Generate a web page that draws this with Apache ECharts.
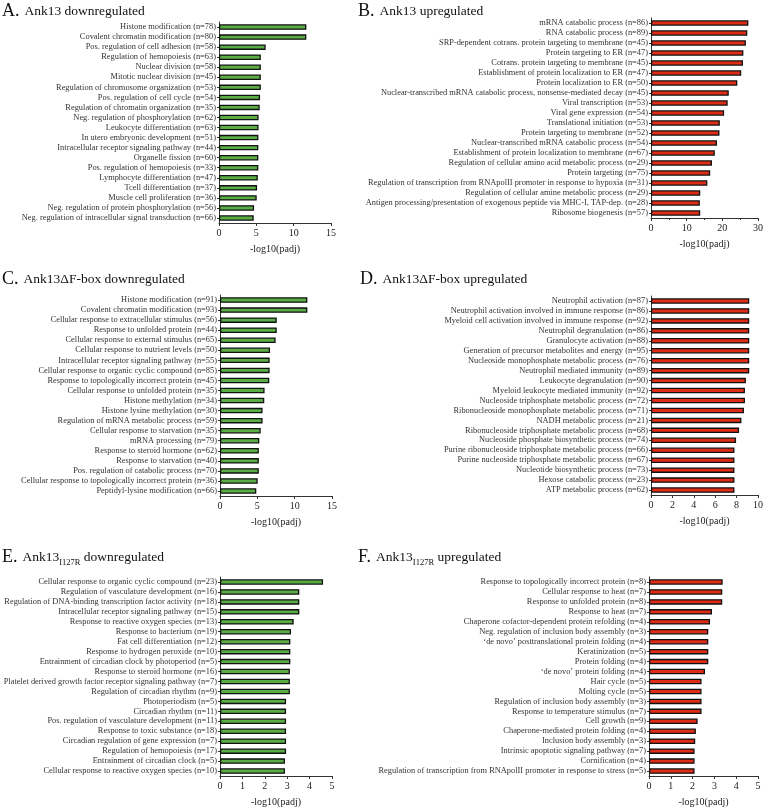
<!DOCTYPE html>
<html>
<head>
<meta charset="utf-8">
<title>GO enrichment Ank13</title>
<script src="https://cdn.jsdelivr.net/npm/echarts@6/dist/echarts.min.js"></script>
<style>
  html, body { margin: 0; padding: 0; background: #fff; }
  #chart { width: 766px; height: 808px; }
</style>
</head>
<body>
<div id="chart"></div>
<script>
// A. Ank13 downregulated
const catA = ['Histone modification (n=78)', 'Covalent chromatin modification (n=80)', 'Pos. regulation of cell adhesion (n=58)', 'Regulation of hemopoiesis (n=63)', 'Nuclear division (n=58)', 'Mitotic nuclear division (n=45)', 'Regulation of chromosome organization (n=53)', 'Pos. regulation of cell cycle (n=54)', 'Regulation of chromatin organization (n=35)', 'Neg. regulation of phosphorylation (n=62)', 'Leukocyte differentiation (n=63)', 'In utero embryonic development (n=51)', 'Intracellular receptor signaling pathway (n=44)', 'Organelle fission (n=60)', 'Pos. regulation of hemopoiesis (n=33)', 'Lymphocyte differentiation (n=47)', 'Tcell differentiation (n=37)', 'Muscle cell proliferation (n=36)', 'Neg. regulation of protein phosphorylation (n=56)', 'Neg. regulation of intracellular signal transduction (n=66)']
const valA = [11.7, 11.7, 6.25, 5.6, 5.6, 5.6, 5.6, 5.5, 5.45, 5.3, 5.3, 5.27, 5.27, 5.27, 5.27, 5.2, 5.1, 5.05, 4.7, 4.65]

// B. Ank13 upregulated
const catB = ['mRNA catabolic process (n=86)', 'RNA catabolic process (n=89)', 'SRP-dependent cotrans. protein targeting to membrane (n=45)', 'Protein targeting to ER (n=47)', 'Cotrans. protein targeting to membrane (n=45)', 'Establishment of protein localization to ER (n=47)', 'Protein localization to ER (n=50)', 'Nuclear-transcribed mRNA catabolic process, nonsense-mediated decay (n=45)', 'Viral transcription (n=53)', 'Viral gene expression (n=54)', 'Translational initiation (n=53)', 'Protein targeting to membrane (n=52)', 'Nuclear-transcribed mRNA catabolic process (n=54)', 'Establishment of protein localization to membrane (n=67)', 'Regulation of cellular amino acid metabolic process (n=29)', 'Protein targeting (n=75)', 'Regulation of transcription from RNApolII promoter in response to hypoxia (n=31)', 'Regulation of cellular amine metabolic process (n=29)', 'Antigen processing/presentation of exogenous peptide via MHC-I, TAP-dep. (n=28)', 'Ribosome biogenesis (n=57)']
const valB = [27.3, 27.0, 26.6, 25.9, 25.8, 25.3, 24.2, 21.8, 21.5, 20.5, 19.3, 19.2, 18.5, 17.9, 17.1, 16.6, 15.8, 13.8, 13.7, 13.8]

// C. Ank13ΔF-box downregulated
const catC = ['Histone modification (n=91)', 'Covalent chromatin modification (n=93)', 'Cellular response to extracellular stimulus (n=56)', 'Response to unfolded protein (n=44)', 'Cellular response to external stimulus (n=65)', 'Cellular response to nutrient levels (n=50)', 'Intracellular receptor signaling pathway (n=55)', 'Cellular response to organic cyclic compound (n=85)', 'Response to topologically incorrect protein (n=45)', 'Cellular response to unfolded protein (n=35)', 'Histone methylation (n=34)', 'Histone lysine methylation (n=30)', 'Regulation of mRNA metabolic process (n=59)', 'Cellular response to starvation (n=35)', 'mRNA processing (n=79)', 'Response to steroid hormone (n=62)', 'Response to starvation (n=40)', 'Pos. regulation of catabolic process (n=70)', 'Cellular response to topologically incorrect protein (n=36)', 'Peptidyl-lysine modification (n=66)']
const valC = [11.7, 11.7, 7.6, 7.6, 7.45, 6.7, 6.65, 6.65, 6.6, 5.97, 5.93, 5.7, 5.7, 5.45, 5.26, 5.2, 5.2, 5.2, 5.05, 4.86]

// D. Ank13ΔF-box upregulated
const catD = ['Neutrophil activation (n=87)', 'Neutrophil activation involved in immune response (n=86)', 'Myeloid cell activation involved in immune response (n=92)', 'Neutrophil degranulation (n=86)', 'Granulocyte activation (n=88)', 'Generation of precursor metabolites and energy (n=95)', 'Nucleoside monophosphate metabolic process (n=76)', 'Neutrophil mediated immunity (n=89)', 'Leukocyte degranulation (n=90)', 'Myeloid leukocyte mediated immunity (n=92)', 'Nucleoside triphosphate metabolic process (n=72)', 'Ribonucleoside monophosphate metabolic process (n=71)', 'NADH metabolic process (n=21)', 'Ribonucleoside triphosphate metabolic process (n=68)', 'Nucleoside phosphate biosynthetic process (n=74)', 'Purine ribonucleoside triphosphate metabolic process (n=66)', 'Purine nucleoside triphosphate metabolic process (n=67)', 'Nucleotide biosynthetic process (n=73)', 'Hexose catabolic process (n=23)', 'ATP metabolic process (n=62)']
const valD = [9.18, 9.18, 9.18, 9.18, 9.18, 9.18, 9.18, 9.18, 8.87, 8.78, 8.78, 8.69, 8.45, 8.23, 7.95, 7.8, 7.8, 7.8, 7.8, 7.8]

// E. Ank13 I127R downregulated
const catE = ['Cellular response to organic cyclic compound (n=23)', 'Regulation of vasculature development (n=16)', 'Regulation of DNA-binding transcription factor activity (n=18)', 'Intracellular receptor signaling pathway (n=15)', 'Response to reactive oxygen species (n=13)', 'Response to bacterium (n=19)', 'Fat cell differentiation (n=12)', 'Response to hydrogen peroxide (n=10)', 'Entrainment of circadian clock by photoperiod (n=5)', 'Response to steroid hormone (n=16)', 'Platelet derived growth factor receptor signaling pathway (n=7)', 'Regulation of circadian rhythm (n=9)', 'Photoperiodism (n=5)', 'Circadian rhythm (n=11)', 'Pos. regulation of vasculature development (n=11)', 'Response to toxic substance (n=18)', 'Circadian regulation of gene expression (n=7)', 'Regulation of hemopoiesis (n=17)', 'Entrainment of circadian clock (n=5)', 'Cellular response to reactive oxygen species (n=10)']
const valE = [4.6, 3.54, 3.54, 3.54, 3.29, 3.17, 3.14, 3.14, 3.14, 3.12, 3.12, 3.12, 2.95, 2.95, 2.95, 2.95, 2.95, 2.95, 2.9, 2.9]

// F. Ank13 I127R upregulated
const catF = ['Response to topologically incorrect protein (n=8)', 'Cellular response to heat (n=7)', 'Response to unfolded protein (n=8)', 'Response to heat (n=7)', 'Chaperone cofactor-dependent protein refolding (n=4)', 'Neg. regulation of inclusion body assembly (n=3)', '\u2018de novo\u2019 posttranslational protein folding (n=4)', 'Keratinization (n=5)', 'Protein folding (n=4)', '\u2018de novo\u2019 protein folding (n=4)', 'Hair cycle (n=5)', 'Molting cycle (n=5)', 'Regulation of inclusion body assembly (n=3)', 'Response to temperature stimulus (n=7)', 'Cell growth (n=9)', 'Chaperone-mediated protein folding (n=4)', 'Inclusion body assembly (n=3)', 'Intrinsic apoptotic signaling pathway (n=7)', 'Cornification (n=4)', 'Regulation of transcription from RNApolII promoter in response to stress (n=5)']
const valF = [3.38, 3.36, 3.36, 2.89, 2.8, 2.72, 2.72, 2.72, 2.72, 2.57, 2.41, 2.41, 2.41, 2.41, 2.23, 2.15, 2.12, 2.09, 2.09, 2.09]

const FONT = 'Liberation Serif'
const GREEN = '#5aac45'
const RED = '#de2c16'

// one panel = grid + x axis + y axis + bars
const panels = [
  { cats: catA, vals: valA, color: GREEN, max: 15, step: 5, grid: { left: 219, top: 22, width: 112, height: 201 } },
  { cats: catB, vals: valB, color: RED, max: 30, step: 10, minor: true, grid: { left: 651, top: 18, width: 108, height: 200 } },
  { cats: catC, vals: valC, color: GREEN, max: 15, step: 5, grid: { left: 220, top: 295, width: 112, height: 201 } },
  { cats: catD, vals: valD, color: RED, max: 10, step: 2, grid: { left: 651, top: 296, width: 109, height: 199 } },
  { cats: catE, vals: valE, color: GREEN, max: 5, step: 1, grid: { left: 220, top: 577, width: 112, height: 199 } },
  { cats: catF, vals: valF, color: RED, max: 5, step: 1, grid: { left: 649, top: 577, width: 109, height: 200 } }
]

const rich = {
  big: { fontFamily: FONT, fontSize: 18, fontWeight: 'normal', color: '#111', lineHeight: 20 },
  t: { fontFamily: FONT, fontSize: 13.5, fontWeight: 'normal', color: '#111', lineHeight: 20 },
  sub: { fontFamily: FONT, fontSize: 8.5, fontWeight: 'normal', color: '#111', lineHeight: 11, verticalAlign: 'bottom' }
}

const titles = [
  { left: 2, top: 1, text: '{big|A.} {t|Ank13 downregulated}' },
  { left: 358, top: 1, text: '{big|B.} {t|Ank13 upregulated}' },
  { left: 2, top: 269, text: '{big|C.} {t|Ank13\u0394F-box downregulated}' },
  { left: 360, top: 269, text: '{big|D.} {t|Ank13\u0394F-box upregulated}' },
  { left: 2, top: 547, text: '{big|E.} {t|Ank13}{sub|I127R}{t| downregulated}' },
  { left: 358, top: 547, text: '{big|F.} {t|Ank13}{sub|I127R}{t| upregulated}' }
]

const mychart = echarts.init(document.getElementById('chart'), null, { renderer: 'canvas' })

mychart.setOption({
  animation: false,
  backgroundColor: '#fff',
  title: titles.map(t => ({
    left: t.left,
    top: t.top,
    padding: 0,
    text: t.text,
    textStyle: { fontWeight: 'normal', rich: rich }
  })),
  grid: panels.map(p => p.grid),
  xAxis: panels.map((p, i) => ({
    type: 'value',
    gridIndex: i,
    min: 0,
    max: p.max,
    interval: p.step,
    name: '-log10(padj)',
    nameLocation: 'middle',
    nameGap: 21,
    nameTextStyle: { fontFamily: FONT, fontSize: 10, color: '#222' },
    axisLine: { show: true, lineStyle: { color: '#333', width: 1 } },
    axisTick: { show: true, length: 3, lineStyle: { color: '#333' } },
    minorTick: { show: !!p.minor, splitNumber: 2, length: 2, lineStyle: { color: '#333' } },
    axisLabel: { fontFamily: FONT, fontSize: 10, color: '#222', margin: 5 },
    splitLine: { show: false }
  })),
  yAxis: panels.map((p, i) => ({
    type: 'category',
    gridIndex: i,
    inverse: true,
    data: p.cats,
    axisLine: { show: true, lineStyle: { color: '#333', width: 1 } },
    axisTick: { show: true, length: 2, alignWithLabel: true, lineStyle: { color: '#333' } },
    axisLabel: { fontFamily: FONT, fontSize: 8.4, color: '#333', margin: 3, interval: 0 },
    splitLine: { show: false }
  })),
  series: panels.map((p, i) => ({
    type: 'bar',
    xAxisIndex: i,
    yAxisIndex: i,
    data: p.vals,
    barWidth: 5.5,
    itemStyle: { color: p.color, borderColor: '#111', borderWidth: 1.3 }
  }))
})
</script>
</body>
</html>
